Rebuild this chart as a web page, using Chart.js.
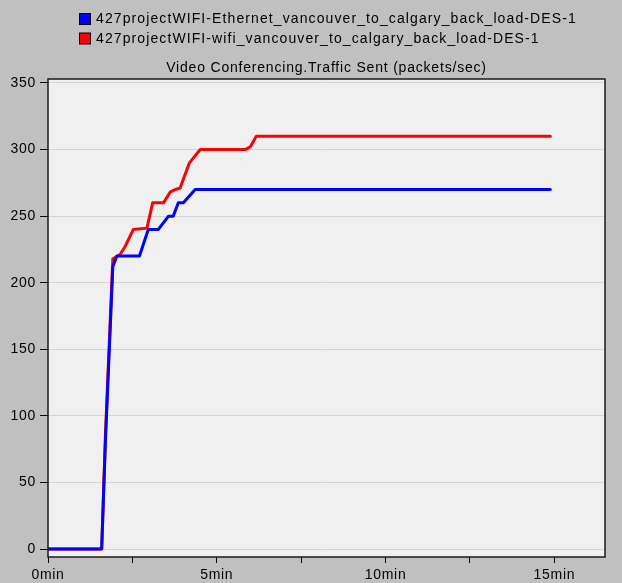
<!DOCTYPE html>
<html>
<head>
<meta charset="utf-8">
<script src="https://cdn.jsdelivr.net/npm/chart.js@4/dist/chart.umd.min.js"></script>
<style>
  html, body { margin: 0; padding: 0; background: #c0c0c0; }
  #wrap { width: 622px; height: 583px; }
  canvas { display: block; }
</style>
</head>
<body>
<div id="wrap"><canvas id="chart" width="622" height="583"></canvas></div>
<script>
// Statistic panel: Video Conferencing traffic sent, two scenarios.
const chartTitle = 'Video Conferencing.Traffic Sent (packets/sec)';
const seriesNames = [
  '427projectWIFI-Ethernet_vancouver_to_calgary_back_load-DES-1',
  '427projectWIFI-wifi_vancouver_to_calgary_back_load-DES-1'
];
const seriesColors = ['#0000ff', '#ff0000'];

// Ethernet scenario (time in minutes, packets/sec)
const ethernetTime = [0, 1.59, 1.70, 1.92, 2.04, 2.71, 2.97, 3.27, 3.57, 3.71, 3.86, 4.01, 4.36, 14.88];
const ethernetSent = [0, 0,    80,   212,  220,  220,  240,  240,  250,  250,  260,  260,  270,  270];

// Wi-Fi scenario (time in minutes, packets/sec)
const wifiTime = [0, 1.59, 1.70, 1.92, 2.13, 2.28, 2.53, 2.93, 3.10, 3.42, 3.62, 3.77, 3.91, 4.19, 4.51, 5.84, 5.99, 6.17, 14.88];
const wifiSent = [0, 0,    85,   218,  221,  227,  240,  241,  260,  260,  268,  270,  271,  290,  300,  300,  302,  310,  310];

// Axis ticks
const xTickValues = [0, 2.5, 5, 7.5, 10, 12.5, 15];
const xTickLabels = ['0min', '', '5min', '', '10min', '', '15min'];
const yTickValues = [0, 50, 100, 150, 200, 250, 300, 350];

const toPoints = (xs, ys) => xs.map((x, i) => ({ x: x, y: ys[i] }));

const FONT = '"Liberation Sans", Arial, sans-serif';

// Panel background, plot frame, legend and title
const panelPlugin = {
  id: 'panel',
  beforeDraw(chart) {
    const { ctx, chartArea: a } = chart;
    ctx.save();
    ctx.fillStyle = '#c0c0c0';
    ctx.fillRect(0, 0, chart.width, chart.height);
    ctx.fillStyle = '#f0f0f0';
    ctx.fillRect(a.left, a.top, a.right - a.left, a.bottom - a.top);
    ctx.restore();
    // slightly open spacing for every label drawn afterwards
    ctx.letterSpacing = '0.7px';
  },
  afterDraw(chart) {
    const { ctx, chartArea: a } = chart;
    ctx.save();
    // frame
    ctx.strokeStyle = '#1a1a1a';
    ctx.lineWidth = 1.5;
    ctx.strokeRect(a.left, a.top, a.right - a.left, a.bottom - a.top);

    // legend
    ctx.font = '14px ' + FONT;
    ctx.letterSpacing = '1.1px';
    ctx.textBaseline = 'middle';
    ctx.textAlign = 'left';
    chart.data.datasets.forEach((ds, i) => {
      const y = 13 + i * 19.5;
      ctx.fillStyle = ds.borderColor;
      ctx.fillRect(79.5, y + 0.5, 11, 11);
      ctx.strokeStyle = '#000';
      ctx.lineWidth = 1;
      ctx.strokeRect(79.5, y + 0.5, 11, 11);
      ctx.fillStyle = '#000';
      ctx.fillText(ds.label, 96, y + 6.5);
    });

    // title
    ctx.font = '14px ' + FONT;
    ctx.letterSpacing = '0.8px';
    ctx.textAlign = 'center';
    ctx.fillStyle = '#000';
    ctx.fillText(chartTitle, (a.left + a.right) / 2, 68);
    ctx.restore();
  }
};

new Chart(document.getElementById('chart'), {
  type: 'line',
  data: {
    datasets: [
      {
        label: seriesNames[0],
        data: toPoints(ethernetTime, ethernetSent),
        borderColor: seriesColors[0],
        backgroundColor: seriesColors[0]
      },
      {
        label: seriesNames[1],
        data: toPoints(wifiTime, wifiSent),
        borderColor: seriesColors[1],
        backgroundColor: seriesColors[1]
      }
    ]
  },
  options: {
    responsive: false,
    animation: false,
    devicePixelRatio: 1,
    layout: { padding: { left: 0, right: 17, top: 79, bottom: 0 } },
    elements: {
      line: { borderWidth: 3, tension: 0, fill: false, borderJoinStyle: 'round', borderCapStyle: 'round' },
      point: { radius: 0, hoverRadius: 0 }
    },
    plugins: {
      legend: { display: false },
      title: { display: false },
      tooltip: { enabled: false }
    },
    scales: {
      x: {
        type: 'linear',
        min: 0,
        max: 16.5,
        afterBuildTicks(scale) { scale.ticks = xTickValues.map(v => ({ value: v })); },
        afterFit(scale) { scale.height = 26; },
        border: { display: false },
        grid: { drawOnChartArea: false, drawTicks: true, tickLength: 6, tickColor: '#000', lineWidth: 1 },
        ticks: {
          padding: 4,
          maxRotation: 0,
          autoSkip: false,
          color: '#000',
          font: { family: FONT, size: 14 },
          callback(value, index) { return xTickLabels[index]; }
        }
      },
      y: {
        type: 'linear',
        min: -6,
        max: 353,
        afterBuildTicks(scale) { scale.ticks = yTickValues.map(v => ({ value: v })); },
        afterFit(scale) { scale.width = 48; },
        border: { display: false },
        grid: { drawOnChartArea: true, drawTicks: true, tickLength: 8, color: '#d4d4d4', tickColor: '#000', lineWidth: 1 },
        ticks: {
          padding: 4,
          autoSkip: false,
          color: '#000',
          font: { family: FONT, size: 14 },
          callback(value) { return String(value); }
        }
      }
    }
  },
  plugins: [panelPlugin]
});
</script>
</body>
</html>
